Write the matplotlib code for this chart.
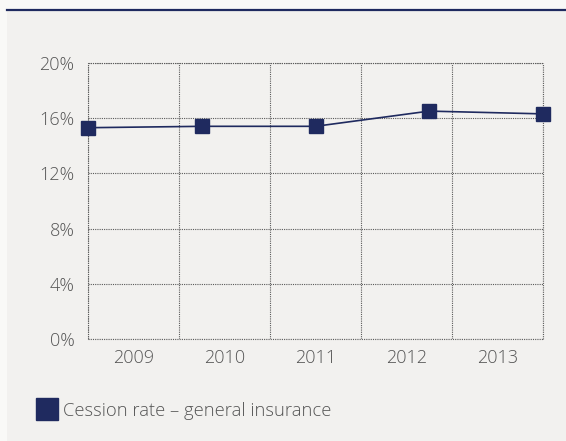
import matplotlib
matplotlib.use("Agg")
import matplotlib.pyplot as plt
from matplotlib.lines import Line2D
from matplotlib.patches import Rectangle

years = ["2009", "2010", "2011", "2012", "2013"]
cession_rate = [15.3, 15.4, 15.4, 16.5, 16.3]
y_ticks = [0, 4, 8, 12, 16, 20]
y_tick_labels = ["0%", "4%", "8%", "12%", "16%", "20%"]
series_label = "Cession rate – general insurance"

navy = "#1f2a5f"
text_col = "#555555"
grid_col = "#5a5a5a"
panel_bg = "#f2f1ef"

plt.rcParams["font.family"] = ["Open Sans", "DejaVu Sans"]
plt.rcParams["font.weight"] = "light"

fig = plt.figure(figsize=(5.66, 4.41), dpi=100)
fig.patch.set_facecolor("#f9f9f7")
# panel background
fig.add_artist(Rectangle((7/566, 0), 1 - 7/566, 1 - 10/441, transform=fig.transFigure,
                         facecolor=panel_bg, edgecolor="none", zorder=-5))
fig.add_artist(Line2D([7/566, 1], [1 - 9.5/441, 1 - 9.5/441], transform=fig.transFigure,
                      color=navy, linewidth=1.6, zorder=-4))

ax = fig.add_axes([88.3/566, 1 - 339.3/441, (542.7 - 88.3)/566, (339.3 - 62.7)/441])
ax.set_zorder(1)
ax.set_facecolor(panel_bg)
n = len(years)
ax.set_xlim(0, n)
ax.set_ylim(0, 20)
ax.set_yticks(y_ticks)
ax.set_yticklabels(y_tick_labels)
ax.set_xticks([i + 0.5 for i in range(n)])
ax.set_xticklabels(years)
ax.set_xticks(range(n + 1), minor=True)
ax.tick_params(axis="both", which="both", length=0, colors=text_col, labelsize=13)
ax.tick_params(axis="y", pad=10)
ax.tick_params(axis="x", pad=7)
ax.grid(True, axis="y", which="major", linestyle=(0, (1, 1)), color=grid_col, linewidth=0.8)
ax.grid(True, axis="x", which="minor", linestyle=(0, (1, 1)), color=grid_col, linewidth=0.8)
for s in ax.spines.values():
    s.set_linestyle((0, (1, 1)))
    s.set_capstyle("butt")
    s.set_color(grid_col)
    s.set_linewidth(0.8)

ax2 = ax.twiny()
ax2.set_zorder(2)
ax2.set_xlim(0, n - 1)
ax2.set_axis_off()
ax2.plot(range(n), cession_rate, color=navy, linewidth=1.2, marker="s",
         markersize=9.5, markerfacecolor=navy, markeredgecolor=navy, clip_on=False, zorder=5)

handle = Line2D([], [], linestyle="none", marker="s", markersize=16.5,
                markerfacecolor=navy, markeredgecolor=navy)
fig.legend([handle], [series_label], loc="lower left",
           bbox_to_anchor=(29/566, 12/441), frameon=False, handlelength=1.0,
           handletextpad=0.35, fontsize=13.2, labelcolor=text_col, borderpad=0)

fig.savefig("out.png", dpi=100, facecolor=fig.get_facecolor())
